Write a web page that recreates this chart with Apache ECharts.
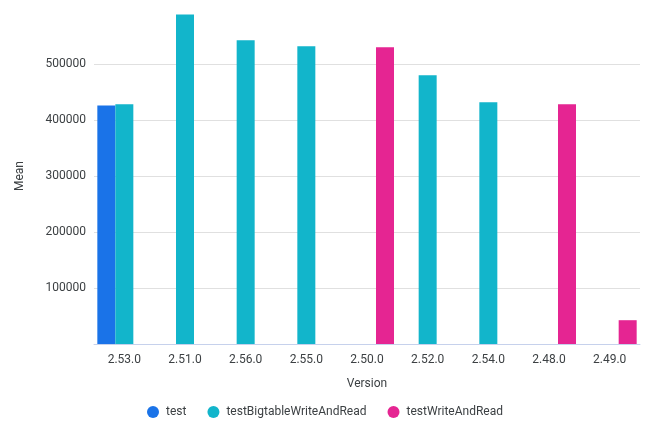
<!DOCTYPE html>
<html><head><meta charset="utf-8">
<script src="https://cdn.jsdelivr.net/npm/echarts@6/dist/echarts.min.js"></script>
<style>html,body{margin:0;padding:0;background:#fff}#c{width:650px;height:442px}</style>
</head><body><div id="c"></div>
<script>
var categories = ['2.53.0','2.51.0','2.56.0','2.55.0','2.50.0','2.52.0','2.54.0','2.48.0','2.49.0'];
var seriesNames = ['test','testBigtableWriteAndRead','testWriteAndRead'];
var testValues = [426000, null, null, null, null, null, null, null, null];
var bigtableValues = [428000, 588500, 542500, 531500, null, 480000, 431500, null, null];
var writeReadValues = [null, null, null, null, 530000, null, null, 428000, 42500];
var yTicks = [0, 100000, 200000, 300000, 400000, 500000, 600000];
var colors = ['#1a73e8','#12b5cb','#e52592'];

var chart = echarts.init(document.getElementById('c'));
var font = 'Roboto, "Noto Sans", sans-serif';
function mk(name, data, i){
  return {name:name, type:'bar', data:data, barWidth:18, barGap:'0%',
    itemStyle:{color:colors[i]}, emphasis:{disabled:true}};
}
chart.setOption({
  animation:false,
  color:colors,
  grid:{left:94,right:10,top:8,bottom:98,containLabel:false},
  legend:{bottom:19,left:'center',icon:'circle',itemWidth:12,itemHeight:12,itemGap:21,
    textStyle:{color:'#3c4043',fontFamily:font,fontSize:12,padding:[0,0,0,2]},
    data:seriesNames},
  xAxis:{type:'category',data:categories,name:'Version',nameLocation:'middle',nameGap:34,
    nameTextStyle:{color:'#3c4043',fontFamily:font,fontSize:12},
    axisLine:{lineStyle:{color:'#c6d1ec'}},axisTick:{show:false},
    axisLabel:{color:'#3c4043',fontFamily:font,fontSize:12,margin:10}},
  yAxis:{type:'value',min:yTicks[0],max:yTicks[yTicks.length-1],interval:yTicks[1]-yTicks[0],
    name:'Mean',nameLocation:'middle',nameGap:68,
    nameTextStyle:{color:'#3c4043',fontFamily:font,fontSize:12},
    axisLine:{show:false},axisTick:{show:false},
    axisLabel:{color:'#3c4043',fontFamily:font,fontSize:12,margin:8,
      formatter:function(v){return (v<=0||v>=600000)?'':String(v);}},
    splitLine:{lineStyle:{color:['#e0e0e0','#e0e0e0','#e0e0e0','#e0e0e0','#e0e0e0','#e0e0e0','rgba(0,0,0,0)']}}},
  series:[mk(seriesNames[0],testValues,0),mk(seriesNames[1],bigtableValues,1),mk(seriesNames[2],writeReadValues,2)]
});
</script></body></html>
